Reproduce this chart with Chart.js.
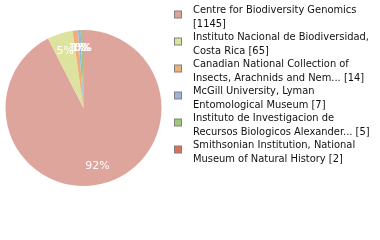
<!DOCTYPE html>
<html>
<head>
<meta charset="utf-8">
<script src="https://cdn.jsdelivr.net/npm/chart.js@4"></script>
<style>
  html, body { margin: 0; padding: 0; background: #fff; }
  #chart { display: block; }
</style>
</head>
<body>
<canvas id="chart" width="380" height="240"></canvas>
<script>
// institutions holding the specimens, with line breaks as shown in the legend
const institutions = [
  ["Centre for Biodiversity Genomics"],
  ["Instituto Nacional de Biodiversidad,", "Costa Rica"],
  ["Canadian National Collection of", "Insects, Arachnids and Nem..."],
  ["McGill University, Lyman", "Entomological Museum"],
  ["Instituto de Investigacion de", "Recursos Biologicos Alexander..."],
  ["Smithsonian Institution, National", "Museum of Natural History"],
];
const counts = [1145, 65, 14, 7, 5, 2];
const colors = ["#dea59d", "#dde39e", "#f0ae78", "#98b6da", "#a0c878", "#dd6f57"];

const total = counts.reduce((a, b) => a + b, 0);

// percent labels inside the slices
const pctLabels = {
  id: "pctLabels",
  afterDatasetsDraw(chart) {
    const ctx = chart.ctx;
    const meta = chart.getDatasetMeta(0);
    ctx.save();
    ctx.font = "11px 'DejaVu Sans'";
    ctx.fillStyle = "#fff";
    ctx.textAlign = "center";
    ctx.textBaseline = "middle";
    meta.data.forEach((arc, i) => {
      const p = arc.getProps(["x", "y", "startAngle", "endAngle", "outerRadius"], true);
      const mid = (p.startAngle + p.endAngle) / 2;
      const d = p.outerRadius * 0.77;
      const pct = Math.round((counts[i] / total) * 100);
      ctx.fillText(pct + "%", p.x + Math.cos(mid) * d, p.y + Math.sin(mid) * d);
    });
    ctx.restore();
  },
};

// legend on the right with two-line labels
const sideLegend = {
  id: "sideLegend",
  afterDraw(chart) {
    const ctx = chart.ctx;
    ctx.save();
    ctx.font = "11px 'DejaVu Sans Condensed', 'DejaVu Sans'";
    ctx.fillStyle = "#111";
    ctx.textAlign = "left";
    ctx.textBaseline = "alphabetic";
    institutions.forEach((lines, i) => {
      const cy = 14.5 + i * 27;
      ctx.fillStyle = colors[i];
      ctx.fillRect(174.5, cy - 3.5, 7, 7);
      ctx.strokeStyle = "#808080";
      ctx.lineWidth = 1;
      ctx.strokeRect(174.5, cy - 3.5, 7, 7);
      const text = lines.length > 1
        ? [lines[0], lines[1] + " [" + counts[i] + "]"]
        : [lines[0], "[" + counts[i] + "]"];
      ctx.fillStyle = "#111";
      ctx.fillText(text[0], 193, cy - 1.5);
      ctx.fillText(text[1], 193, cy + 12);
    });
    ctx.restore();
  },
};

new Chart(document.getElementById("chart"), {
  type: "pie",
  data: {
    labels: institutions.map((l) => l.join(" ")),
    datasets: [
      {
        data: counts,
        backgroundColor: colors,
        borderWidth: 0,
      },
    ],
  },
  options: {
    responsive: false,
    animation: false,
    layout: {
      padding: { left: 5.5, top: 30, right: 218.5, bottom: 54 },
    },
    plugins: {
      legend: { display: false },
      tooltip: { enabled: false },
    },
  },
  plugins: [pctLabels, sideLegend],
});
</script>
</body>
</html>
